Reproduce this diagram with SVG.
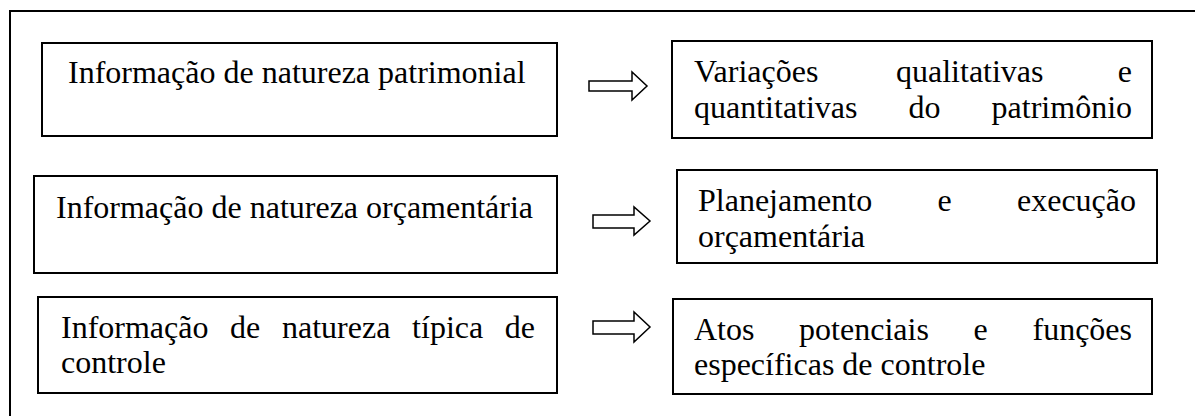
<svg xmlns="http://www.w3.org/2000/svg" width="1195" height="416" viewBox="0 0 1195 416">
<style>
.box{fill:#fff;stroke:#000;stroke-width:2}
.arr{fill:#fff;stroke:#000;stroke-width:1.5;stroke-linejoin:miter}
.t{font-family:"Liberation Serif","Times New Roman",serif;font-size:32px;fill:#000}
</style>
<rect width="1195" height="416" fill="#fff"/>
<path d="M10,416 V11 H1195" fill="none" stroke="#000" stroke-width="2"/>
<g id="n1">
<rect class="box" x="42" y="43" width="515" height="93"/>
<text class="t" x="68" y="83">Informação de natureza patrimonial</text>
</g>
<g id="n2">
<rect class="box" x="34" y="176" width="523" height="97"/>
<text class="t" x="56" y="218">Informação de natureza orçamentária</text>
</g>
<g id="n3">
<rect class="box" x="38" y="297" width="519" height="96"/>
<text class="t" y="338"><tspan x="61">Informação</tspan><tspan x="230.1">de</tspan><tspan x="282">natureza</tspan><tspan x="412.1">típica</tspan><tspan x="504.8">de</tspan></text>
<text class="t" x="61" y="373">controle</text>
</g>
<g id="n4">
<rect class="box" x="672" y="41" width="480" height="97"/>
<text class="t" y="82"><tspan x="694">Variações</tspan><tspan x="896">qualitativas</tspan><tspan x="1117.8">e</tspan></text>
<text class="t" y="118"><tspan x="694">quantitativas</tspan><tspan x="908.6">do</tspan><tspan x="991.6">patrimônio</tspan></text>
</g>
<g id="n5">
<rect class="box" x="677" y="170" width="480" height="93"/>
<text class="t" y="211"><tspan x="698">Planejamento</tspan><tspan x="937.5">e</tspan><tspan x="1017">execução</tspan></text>
<text class="t" x="698" y="247">orçamentária</text>
</g>
<g id="n6">
<rect class="box" x="673" y="299" width="479" height="95"/>
<text class="t" y="340"><tspan x="694">Atos</tspan><tspan x="799.1">potenciais</tspan><tspan x="973.6">e</tspan><tspan x="1032.5">funções</tspan></text>
<text class="t" x="694" y="375">específicas de controle</text>
</g>
<g id="connectors">
<path class="arr" d="M589,81 H632 V72 L647,86 L632,100 V91 H589 Z"/>
<path class="arr" d="M593,215 H634 V207 L650,221 L634,235 V228 H593 Z"/>
<path class="arr" d="M593,321 H634 V312 L650,327 L634,342 V334 H593 Z"/>
</g>
</svg>
